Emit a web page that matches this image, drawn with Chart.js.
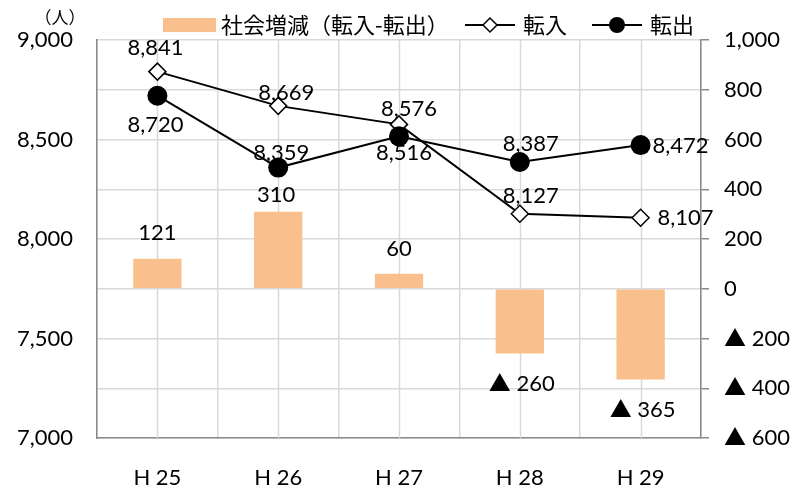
<!DOCTYPE html>
<html>
<head>
<meta charset="utf-8">
<script src="https://cdn.jsdelivr.net/npm/chart.js@4/dist/chart.umd.min.js"></script>
<style>
  html, body { margin: 0; padding: 0; background: #fff; }
  #wrap { width: 800px; height: 490px; }
</style>
</head>
<body>
<div id="wrap"><canvas id="c" width="800" height="490"></canvas></div>
<script>
// Fiscal years (Heisei)
const categories = ['H 25', 'H 26', 'H 27', 'H 28', 'H 29'];
// 転入 (moved in), persons
const moveIn = [8841, 8669, 8576, 8127, 8107];
// 転出 (moved out), persons
const moveOut = [8720, 8359, 8516, 8387, 8472];
// 社会増減 = 転入 - 転出
const socialChange = [121, 310, 60, -260, -365];

// Axis ranges
const leftAxis = { min: 7000, max: 9000, step: 500 };
const rightAxis = { min: -600, max: 1000, step: 200 };

// Legend / unit texts
const barName = '社会増減（転入-転出）';
const inName = '転入';
const outName = '転出';
const unitText = '（人）';

// Label placement relative to each mark: [dx, dy, align]
const inLabelPos = [[-2, -17], [8, -6], [10, -8], [11, -11], [17, 7, 'left']];
const outLabelPos = [[-2, 36], [3, -8], [5, 24], [11, -11], [12, 8, 'left']];
const barLabelPos = [[0, -19], [-2, -10], [0, -18], [2, 38], [2, 37]];

const BAR_COLOR = '#F9C08D';
const GRID = '#d9d9d9';
const AXIS = '#898989';
const FONT = 'Lato, "Noto Sans CJK JP", sans-serif';
const CJK = '"Noto Sans CJK JP", sans-serif';

const fmtNum = v => v < 0 ? '▲ ' + Math.abs(v).toLocaleString('en-US') : v.toLocaleString('en-US');

// Vertical grid lines through category centres
const centreGrid = {
  id: 'centreGrid',
  beforeDatasetsDraw(chart) {
    const { ctx, chartArea } = chart;
    const xs = chart.scales.x;
    ctx.save();
    ctx.strokeStyle = GRID;
    ctx.lineWidth = 1.5;
    categories.forEach((_, i) => {
      const x = Math.round(xs.getPixelForValue(i)) + 0.5;
      ctx.beginPath();
      ctx.moveTo(x, chartArea.top);
      ctx.lineTo(x, chartArea.bottom);
      ctx.stroke();
    });
    ctx.restore();
  }
};

// Value labels beside every mark
const valueLabels = {
  id: 'valueLabels',
  afterDatasetsDraw(chart) {
    const ctx = chart.ctx;
    const posByDataset = [barLabelPos, inLabelPos, outLabelPos];
    ctx.save();
    ctx.font = '22px ' + FONT;
    ctx.fillStyle = '#000';
    ctx.textBaseline = 'alphabetic';
    chart.data.datasets.forEach((ds, di) => {
      const meta = chart.getDatasetMeta(di);
      const pos = posByDataset[di];
      meta.data.forEach((el, i) => {
        const p = pos[i];
        ctx.textAlign = p[2] || 'center';
        ctx.fillText(fmtNum(ds.data[i]), el.x + p[0], el.y + p[1]);
      });
    });
    ctx.restore();
  }
};

// Legend row and unit caption
const topLegend = {
  id: 'topLegend',
  afterDraw(chart) {
    const ctx = chart.ctx;
    ctx.save();
    // unit
    ctx.font = '17px ' + CJK;
    ctx.fillStyle = '#000';
    ctx.textAlign = 'center';
    ctx.textBaseline = 'middle';
    ctx.fillText(unitText, 60, 18);

    const cy = 25;
    ctx.font = '22px ' + CJK;
    ctx.textAlign = 'left';
    // bar entry
    ctx.fillStyle = BAR_COLOR;
    ctx.fillRect(163, 18, 53, 14);
    ctx.fillStyle = '#000';
    ctx.fillText(barName, 221, cy);

    // line entries
    const lineEntry = (x0, style, label) => {
      ctx.strokeStyle = '#000';
      ctx.lineWidth = 2;
      ctx.beginPath();
      ctx.moveTo(x0, cy);
      ctx.lineTo(x0 + 50, cy);
      ctx.stroke();
      const mx = x0 + 25;
      ctx.beginPath();
      if (style === 'diamond') {
        const r = 7;
        ctx.moveTo(mx - r, cy); ctx.lineTo(mx, cy - r);
        ctx.lineTo(mx + r, cy); ctx.lineTo(mx, cy + r);
        ctx.closePath();
        ctx.fillStyle = '#fff';
        ctx.fill();
        ctx.lineWidth = 1.5;
        ctx.stroke();
      } else {
        ctx.arc(mx, cy, 8, 0, Math.PI * 2);
        ctx.fillStyle = '#000';
        ctx.fill();
      }
      ctx.fillStyle = '#000';
      ctx.fillText(label, x0 + 58, cy);
    };
    lineEntry(465, 'diamond', inName);
    lineEntry(592, 'circle', outName);
    ctx.restore();
  }
};

function draw() {
  new Chart(document.getElementById('c'), {
    data: {
      labels: categories,
      datasets: [
        {
          type: 'bar',
          label: barName,
          data: socialChange,
          yAxisID: 'y2',
          backgroundColor: BAR_COLOR,
          borderWidth: 0,
          barPercentage: 0.4,
          categoryPercentage: 1,
          order: 3
        },
        {
          type: 'line',
          label: inName,
          data: moveIn,
          yAxisID: 'y',
          borderColor: '#000',
          borderWidth: 2,
          pointStyle: 'rectRot',
          pointRadius: 8.5,
          pointBackgroundColor: '#fff',
          pointBorderColor: '#000',
          pointBorderWidth: 1.5,
          tension: 0,
          order: 2
        },
        {
          type: 'line',
          label: outName,
          data: moveOut,
          yAxisID: 'y',
          borderColor: '#000',
          borderWidth: 2,
          pointStyle: 'circle',
          pointRadius: 10,
          pointBackgroundColor: '#000',
          pointBorderColor: '#000',
          pointBorderWidth: 0,
          tension: 0,
          order: 1
        }
      ]
    },
    options: {
      responsive: false,
      animation: false,
      layout: { padding: { top: 40, left: 0, right: 0, bottom: 0 } },
      plugins: {
        legend: { display: false },
        tooltip: { enabled: false }
      },
      scales: {
        x: {
          type: 'category',
          offset: true,
          grid: { offset: true, color: GRID, lineWidth: 1.5, drawTicks: false },
          border: { color: AXIS, width: 1.5 },
          ticks: { color: '#000', font: { family: FONT, size: 22 }, padding: 27 },
          afterFit(s) { s.height = 52; }
        },
        y: {
          position: 'left',
          min: leftAxis.min,
          max: leftAxis.max,
          grid: { display: false },
          border: { color: AXIS, width: 1.5 },
          ticks: {
            stepSize: leftAxis.step,
            color: '#000',
            font: { family: FONT, size: 22 },
            padding: 16,
            callback: v => fmtNum(v)
          },
          afterFit(s) { s.width = 97; }
        },
        y2: {
          position: 'right',
          min: rightAxis.min,
          max: rightAxis.max,
          grid: { color: GRID, lineWidth: 1.5, tickColor: AXIS, tickLength: 8, tickWidth: 1.5 },
          border: { color: AXIS, width: 1.5 },
          ticks: {
            stepSize: rightAxis.step,
            color: '#000',
            font: { family: FONT, size: 22 },
            padding: 15,
            callback: v => fmtNum(v)
          },
          afterFit(s) { s.width = 99; }
        }
      }
    },
    plugins: [centreGrid, valueLabels, topLegend]
  });
}

Promise.all([
  document.fonts.load('22px Lato'),
  document.fonts.load('22px "Noto Sans CJK JP"', '社会増減転入出人▲')
]).then(draw, draw);
</script>
</body>
</html>
